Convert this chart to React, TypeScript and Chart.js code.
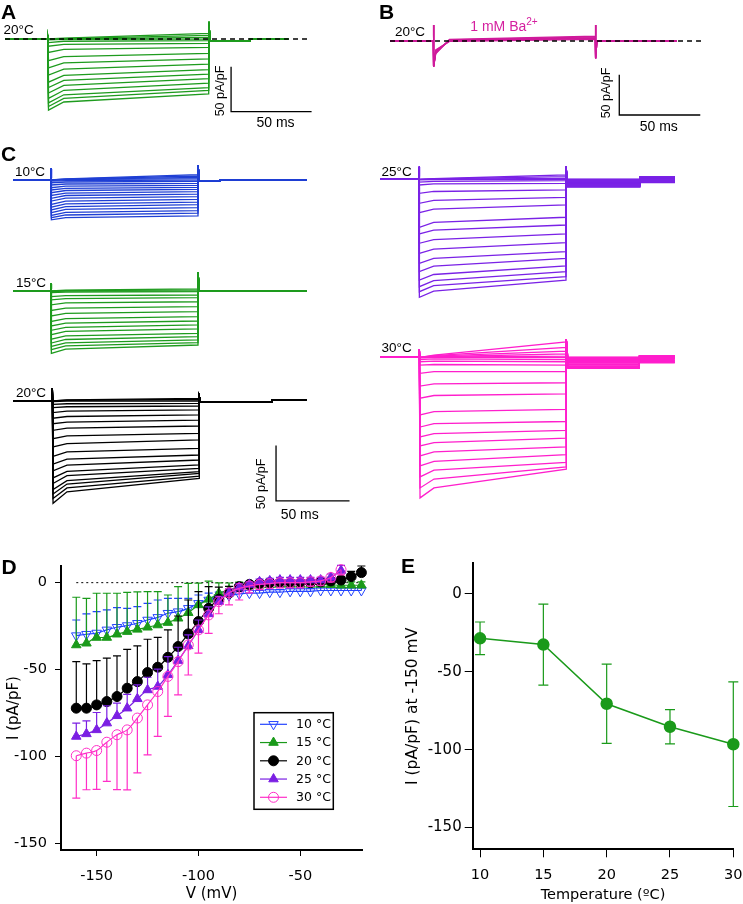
import React, { useEffect, useRef } from 'react';
import { Chart, registerables } from 'chart.js';

Chart.register(...registerables);
Chart.defaults.font.family = "'DejaVu Sans', sans-serif";
Chart.defaults.color = '#000';

// ---------------- colours ----------------
const C_GREEN = '#1e9b1e';
const C_BLUE = '#1f3fd4';
const C_PURPLE = '#7a22e6';
const C_PINK = '#ff1fcc';
const C_BA = '#cf1a9b';
const D_BLUE = '#2343ff';
const D_GREEN = '#1a9a1a';
const D_PURPLE = '#7b1fe3';
const D_PINK = '#ff2ec8';

// ---------------- protocol ----------------
const STEP_MS = 100;
const T_EARLY = 10;
const SCALE_MS = 50;
const SCALE_I = 50;

// ---------------- Panel A (20 °C, control) ----------------
const A_START = [0, 0, 0, -1, -4, -8, -15, -24, -32, -40, -48, -54, -60, -66, -71, -75, -79];
const A_EARLY = [1, 0.5, 0, -0.5, -2.5, -6, -11.5, -19.5, -26.5, -33.5, -40.5, -46, -51.5, -57, -62, -66, -70];
const A_END = [6.3, 4, 1.9, 0, -1.9, -4.8, -9.3, -16, -22, -28, -34, -39, -44, -49, -54, -57, -61];

// ---------------- Panel B (1 mM Ba2+) ----------------
const B_START = [-16, -15, -14, -13, -12, -11];
const B_EARLY = [2, 1.5, 1, 0.5, 0, -0.5];
const B_END = [6, 5, 4, 3.5, 3, 2];

// ---------------- Panel C ----------------
const C10_START = [0, 0, 0, 0, -1, -2.5, -4.5, -7, -9, -11.5, -14, -16.5, -19, -22, -24.5, -27, -29.5, -32, -34, -36];
const C10_EARLY = [1, 0.8, 0.5, 0.3, -0.5, -1.8, -3.6, -5.6, -7.5, -9.5, -11.8, -14, -16.4, -19, -21.5, -24, -26.6, -29.3, -31.6, -34];
const C10_END = [4.8, 3.6, 2.4, 1.2, 0, -1.2, -3, -4.8, -6.6, -8.4, -10.5, -12.7, -15, -17.5, -19.9, -22.3, -25, -27.7, -30, -32.5];

const C15_START = [0, 0, -0.5, -1.5, -5, -8, -12.5, -17.5, -22.5, -27.5, -31.5, -35.5, -39.5, -43.5, -47, -50, -53, -56.3];
const C15_EARLY = [0.8, 0.4, -0.2, -1, -4.2, -6.8, -10.8, -15.5, -20.3, -25, -29, -32.8, -36.5, -40.5, -43.8, -46.8, -49.5, -52.5];
const C15_END = [2, 1, 0, -0.6, -3.6, -6, -9.7, -14.2, -18.7, -23.2, -27.1, -30.7, -34.3, -38.2, -41.2, -44.2, -46.7, -48.8];

const C20_START = [0, 0, -0.5, -3, -6, -10.5, -15.5, -20.5, -26.5, -34, -41.5, -50, -57, -63, -69.5, -74.5, -80, -84, -88, -92.4];
const C20_EARLY = [1, 0.7, 0, -2.5, -5.2, -9.2, -14, -19, -24.5, -31.5, -38.5, -46, -52.5, -58, -63.5, -67.5, -72, -75, -78.5, -82];
const C20_END = [2.4, 1.5, 0, -2.1, -4.5, -8.1, -12.6, -17.2, -22.6, -29.2, -35.2, -42.8, -48.8, -53.3, -57.8, -60.8, -63.8, -65.3, -67.8, -69.9];

const C25_START = [0, 0, 0, -0.5, -2.5, -5.1, -12.7, -21.7, -30.1, -43.4, -49.4, -57.8, -66.9, -75.9, -83.4, -91, -97, -101.5, -106.6];
const C25_EARLY = [0.5, 0.3, 0.2, -0.2, -1.8, -4.2, -11, -19, -27, -39, -46, -54.5, -63, -71.5, -78.5, -86, -91.5, -96, -101];
const C25_END = [3.9, 2.4, 0.9, 0, -1.2, -3.6, -9.6, -16.3, -23.2, -34.3, -41.3, -49.4, -57.2, -65.4, -71.4, -78.3, -83.4, -88, -91];
const C25_TAIL1 = [0, 0, 0, -0.5, -1, -1.5, -2, -2.5, -3, -3.5, -4, -4.5, -5, -5, -5.5, -6, -6, -6.5, -7];
const C25_TAIL2 = [2.5, 2.5, 2, 2, 1.5, 1.5, 1, 1, 0.5, 0, 0, -0.5, -1, -1, -1.5, -2, -2, -2.5, -3];

const C30_START = [0, 0, 0, 0, 0, -0.5, -2, -4, -7, -14.5, -26, -37, -52, -63, -72, -80, -89, -98, -108, -118, -127];
const C30_EARLY = [2, 1.5, 1, 0.5, 0.2, 0, -1.5, -3.5, -6.5, -13, -24, -34.5, -49, -60, -69, -77, -85.5, -94, -102, -110, -118];
const C30_END = [14, 9, 5.5, 3, 1, 0, -2, -4, -7, -13, -23, -33, -47, -58, -66, -73, -81, -88, -95, -99, -101];
const C30_TAIL1 = [0, 0, 0, -0.5, -1, -1, -1.5, -2, -2.5, -3, -4, -4.5, -5, -6, -6.5, -7, -8, -8.5, -9, -9.5, -10];
const C30_TAIL2 = [1.5, 1.5, 1, 1, 0.5, 0.5, 0, 0, -0.5, -1, -1, -1.5, -2, -2.5, -3, -3, -3.5, -4, -4.5, -4.5, -5];

// ---------------- Panel D (I-V) ----------------
const D_V = [-160, -155, -150, -145, -140, -135, -130, -125, -120, -115, -110, -105, -100, -95, -90, -85, -80, -75, -70, -65, -60, -55, -50, -45, -40, -35, -30, -25, -20];
const D_LABELS = ['10 \u00b0C', '15 \u00b0C', '20 \u00b0C', '25 \u00b0C', '30 \u00b0C'];
const I10 = [-30.5, -29.7, -29, -27.2, -25.7, -24.7, -23.4, -21.5, -20, -17.6, -16.7, -14.8, -11.9, -10, -8.5, -7.5, -6.5, -6, -6, -5.5, -5.5, -5, -5, -5, -4.5, -4.5, -4.5, -4.5, -4.5];
const E10 = [9, 11.7, 12.3, 11.5, 11.3, 9.9, 9.6, 9.6, 10, 8.6, 7.7, 5.8, 4.8, 4, 3, 2, 1.5, 1.5, 1.5, 1.5, 1.5, 1.5, 1.5, 1.5, 1.5, 1.5, 1.5, 1.5, 1.5];
const I15 = [-35.9, -34.9, -31.6, -31.6, -29.7, -28.2, -26.9, -25.7, -24.4, -23, -20.5, -17.3, -12.8, -9.6, -6.1, -4.2, -2.7, -2, -1.5, -1.2, -1, -1, -1, -1, -1, -1.2, -1.5, -1.5, -1.5];
const E15 = [27.5, 25.9, 25.5, 25.5, 23.6, 22.6, 21.6, 20.5, 19.2, 15.9, 18.2, 16.9, 12.5, 10.5, 6, 4, 3, 2.5, 2, 2, 2, 2, 2, 2, 2, 2, 2, 2, 2];
const I20 = [-72.3, -72.3, -70.4, -68.5, -65.6, -60.8, -57, -51.8, -48.7, -43, -36.8, -29.5, -22.4, -14.8, -9.6, -6.1, -2.3, -1, -0.5, 0, 0, 0, 0, 0, 0.5, 1, 1.5, 3.5, 5.8];
const E20 = [26.8, 25.5, 25.5, 25, 23.4, 22.4, 20.6, 19.2, 17.2, 15.8, 17.6, 19.5, 17.2, 12.5, 7, 4, 2, 1.5, 1.5, 1.5, 1.5, 1.5, 1.5, 1.5, 1.5, 1.5, 2, 3, 3.8];
const I25 = [-88.6, -87.1, -84.8, -80.9, -76.7, -72.3, -66.9, -61.8, -59.8, -53.1, -44.9, -36.4, -27.2, -18, -10.9, -6.1, -2.7, -1, 0.5, 1, 1.5, 1.5, 1.5, 1.5, 1.5, 3, 7];
const E25 = [7.7, 7.5, 10, 10, 7.3, 8, 8, 7.3, 10, 10.5, 7.7, 6.3, 5.7, 4, 3, 2.5, 2, 1.5, 1.5, 1.5, 1.5, 1.5, 1.5, 1.5, 1.5, 2, 3];
const I30 = [-99.7, -98.2, -96.7, -91.9, -87.6, -84.8, -78, -70.4, -62.7, -54, -45.5, -35.9, -27.2, -18.6, -10.9, -5.8, -3.3, -1.9, -1, -0.5, 0, 0, 0, 0.5, 1, 3, 7.5];
const E30 = [24.4, 21.1, 22.4, 22.6, 31.6, 34.6, 31.6, 28.8, 25.9, 23, 19.1, 17.3, 13.4, 10.6, 7, 7, 6.7, 4, 3, 3, 3, 3, 3, 2.5, 2.5, 2.5, 3];
const D_X_TICKS = [-150, -100, -50];
const D_Y_TICKS = [0, -50, -100, -150];

// ---------------- Panel E ----------------
const E_TEMP = [10, 15, 20, 25, 30];
const E_I = [-28.5, -32.5, -70.5, -85.3, -96.5];
const E_ERR = [10.5, 26, 25.5, 11, 40];
const E_X_TICKS = [10, 15, 20, 25, 30];
const E_Y_TICKS = [0, -50, -100, -150];

// ---------------- helpers ----------------
type TracePanel = {
  left: number; top: number; width: number; height: number;
  onsetX: number; baseY: number; pxPerMs: number; pxPerUnit: number;
  color: string;
  starts: number[]; earlies: number[]; ends: number[];
  tStart: number; tPre: number; tEnd: number; tStep: number;
  tail1: number | number[]; tail2: number | number[];
  spikeOn: number; spikeOnDown?: number; spikeOff: number; spikeOffDown?: number;
  dashEnd?: number;
  scaleBar?: { t: number; i: number };
};

const pick = (v: number | number[], i: number) => (Array.isArray(v) ? v[i] : v);

function buildTrace(p: TracePanel, i: number) {
  const t1 = pick(p.tail1, i);
  const t2 = pick(p.tail2, i);
  const pts: { x: number; y: number }[] = [
    { x: p.tPre, y: 0 },
    { x: 0, y: 0 },
    { x: 0, y: p.spikeOn },
  ];
  if (p.spikeOnDown !== undefined) pts.push({ x: 0.4, y: p.spikeOnDown });
  pts.push({ x: p.tStart, y: p.starts[i] });
  pts.push({ x: T_EARLY, y: p.earlies[i] });
  pts.push({ x: STEP_MS, y: p.ends[i] });
  pts.push({ x: STEP_MS, y: p.spikeOff });
  if (p.spikeOffDown !== undefined) pts.push({ x: STEP_MS + 0.4, y: p.spikeOffDown });
  pts.push({ x: STEP_MS + 1, y: t1 });
  pts.push({ x: p.tStep, y: t1 });
  pts.push({ x: p.tStep, y: t2 });
  pts.push({ x: p.tEnd, y: t2 });
  return pts;
}

function traceConfig(p: TracePanel): any {
  const xMin = (p.left - p.onsetX) / p.pxPerMs;
  const xMax = xMin + p.width / p.pxPerMs;
  const yMax = (p.baseY - p.top) / p.pxPerUnit;
  const yMin = yMax - p.height / p.pxPerUnit;
  const datasets: any[] = [];
  if (p.dashEnd !== undefined) {
    datasets.push({
      data: [{ x: p.tPre, y: 0 }, { x: p.dashEnd, y: 0 }],
      borderColor: '#000', borderWidth: 1.3, borderDash: [5, 4], pointRadius: 0, clip: false,
    });
  }
  if (p.scaleBar) {
    const { t, i } = p.scaleBar;
    datasets.push({
      data: [{ x: t, y: i + SCALE_I }, { x: t, y: i }, { x: t + SCALE_MS, y: i }],
      borderColor: '#000', borderWidth: 1.3, pointRadius: 0, clip: false,
    });
  }
  p.ends.forEach((_, i) => {
    datasets.push({
      data: buildTrace(p, i), borderColor: p.color, borderWidth: 1.3, pointRadius: 0, tension: 0, clip: false,
    });
  });
  return {
    type: 'line',
    data: { datasets },
    options: {
      animation: false, responsive: false, events: [],
      layout: { padding: 0, autoPadding: false },
      plugins: { legend: { display: false }, tooltip: { enabled: false } },
      scales: {
        x: { type: 'linear', display: false, min: xMin, max: xMax },
        y: { type: 'linear', display: false, min: yMin, max: yMax },
      },
    },
  };
}

const errorBarPlugin = {
  id: 'errorBars',
  beforeDatasetDraw(chart: any, args: any) {
    const ds: any = chart.data.datasets[args.index];
    if (!ds.errUp && !ds.errDown) return;
    const { ctx } = chart;
    const xs = chart.scales.x;
    const ys = chart.scales.y;
    ctx.save();
    ctx.strokeStyle = ds.borderColor;
    ctx.lineWidth = ds.errWidth || 1.2;
    const cap = ds.capHalf || 4;
    ds.data.forEach((p: any, i: number) => {
      const px = xs.getPixelForValue(p.x);
      const py = ys.getPixelForValue(p.y);
      const ends: number[] = [];
      if (ds.errUp) ends.push(ys.getPixelForValue(p.y + ds.errUp[i]));
      if (ds.errDown) ends.push(ys.getPixelForValue(p.y - ds.errDown[i]));
      ends.forEach((e) => {
        ctx.beginPath();
        ctx.moveTo(px, py);
        ctx.lineTo(px, e);
        ctx.moveTo(px - cap, e);
        ctx.lineTo(px + cap, e);
        ctx.stroke();
      });
    });
    ctx.restore();
  },
};

function drawMarker(ctx: CanvasRenderingContext2D, style: string, x: number, y: number, r: number, rot: number, fill: string | null, stroke: string) {
  ctx.beginPath();
  if (style === 'circle') {
    ctx.arc(x, y, r, 0, Math.PI * 2);
  } else {
    let a = (rot * Math.PI) / 180;
    ctx.moveTo(x + Math.sin(a) * r, y - Math.cos(a) * r);
    a += (2 * Math.PI) / 3;
    ctx.lineTo(x + Math.sin(a) * r, y - Math.cos(a) * r);
    a += (2 * Math.PI) / 3;
    ctx.lineTo(x + Math.sin(a) * r, y - Math.cos(a) * r);
    ctx.closePath();
  }
  if (fill) {
    ctx.fillStyle = fill;
    ctx.fill();
  }
  ctx.lineWidth = 1;
  ctx.strokeStyle = stroke;
  ctx.stroke();
}

const LEG = { x: 254, y: 164.7, w: 79.3, h: 96.6, row0: 11.6, rowGap: 18.25, line0: 260, line1: 287, textX: 296 };

const boxLegendPlugin = {
  id: 'boxLegend',
  afterDatasetsDraw(chart: any) {
    const ctx: CanvasRenderingContext2D = chart.ctx;
    ctx.save();
    ctx.fillStyle = '#fff';
    ctx.fillRect(LEG.x, LEG.y, LEG.w, LEG.h);
    ctx.lineWidth = 1.5;
    ctx.strokeStyle = '#000';
    ctx.strokeRect(LEG.x, LEG.y, LEG.w, LEG.h);
    const items = chart.data.datasets.filter((d: any) => d.legendRow !== undefined);
    items.forEach((d: any) => {
      const y = LEG.y + LEG.row0 + d.legendRow * LEG.rowGap;
      ctx.beginPath();
      ctx.strokeStyle = d.borderColor;
      ctx.lineWidth = 1.2;
      ctx.moveTo(LEG.line0, y);
      ctx.lineTo(LEG.line1, y);
      ctx.stroke();
      drawMarker(ctx, d.pointStyle, (LEG.line0 + LEG.line1) / 2, y, d.pointRadius, d.pointRotation || 0, d.filled ? d.borderColor : null, d.borderColor);
      ctx.fillStyle = '#000';
      ctx.font = "12.5px 'DejaVu Sans'";
      ctx.textBaseline = 'middle';
      ctx.textAlign = 'left';
      ctx.fillText(d.label, LEG.textX, y + 0.5);
    });
    ctx.restore();
  },
};

function dSeries(label: string, ys: number[], up: number[] | null, down: number[] | null, color: string, style: string, rot: number, filled: boolean, radius: number, order: number, legendRow: number) {
  return {
    label,
    data: ys.map((y, i) => ({ x: D_V[i], y })),
    borderColor: color, backgroundColor: color, borderWidth: 1.2,
    pointStyle: style, pointRotation: rot, pointRadius: radius,
    pointBackgroundColor: filled ? color : 'rgba(255,255,255,0)',
    pointBorderColor: color, pointBorderWidth: 1,
    cubicInterpolationMode: 'monotone', clip: false, order,
    errUp: up, errDown: down, capHalf: 4, errWidth: 1.2, filled, legendRow,
  };
}

function axisCommon(tickVals: number[], fontSize: number, tickLen: number, pad: number) {
  return {
    type: 'linear',
    afterBuildTicks: (ax: any) => { ax.ticks = tickVals.map((v) => ({ value: v })); },
    grid: { display: true, drawOnChartArea: false, drawTicks: true, tickLength: tickLen, color: '#000', lineWidth: 1 },
    border: { display: true, color: '#000', width: 2 },
    ticks: { color: '#000', font: { size: fontSize }, padding: pad, autoSkip: false, maxRotation: 0, callback: (v: any) => String(v) },
  };
}

// fix an axis box size and stop its labels from shrinking the plot area
const fixHeight = (h: number) => (s: any) => { s.height = h; s.paddingLeft = 0; s.paddingRight = 0; };
const fixWidth = (w: number) => (s: any) => { s.width = w; s.paddingTop = 0; s.paddingBottom = 0; };

function dConfig(): any {
  const datasets = [
    {
      data: [{ x: -160, y: 0 }, { x: -20, y: 0 }], borderColor: '#000', borderWidth: 1, borderDash: [2, 3], pointRadius: 0, order: 20, clip: false,
    },
    dSeries(D_LABELS[0], I10, E10, null, D_BLUE, 'triangle', 180, false, 5.5, 5, 0),
    dSeries(D_LABELS[1], I15, E15, null, D_GREEN, 'triangle', 0, true, 5.5, 4, 1),
    dSeries(D_LABELS[2], I20, E20, null, '#000', 'circle', 0, true, 5, 3, 2),
    dSeries(D_LABELS[3], I25, E25, null, D_PURPLE, 'triangle', 0, true, 5.5, 2, 3),
    dSeries(D_LABELS[4], I30, null, E30, D_PINK, 'circle', 0, false, 5, 1, 4),
  ];
  return {
    type: 'line',
    data: { datasets },
    plugins: [errorBarPlugin, boxLegendPlugin],
    options: {
      animation: false, responsive: false, events: [],
      layout: { padding: { left: 0, top: 18, right: 18, bottom: 0 }, autoPadding: false },
      plugins: { legend: { display: false }, tooltip: { enabled: false } },
      scales: {
        x: {
          ...axisCommon(D_X_TICKS, 14.5, 6, 12), min: -167.5, max: -19.7,
          afterFit: fixHeight(54),
          title: { display: true, text: 'V (mV)', color: '#000', font: { size: 15 }, padding: { top: 0, bottom: 1 } },
        },
        y: {
          ...axisCommon(D_Y_TICKS, 14.5, 6, 8), min: -154, max: 9.6,
          afterFit: fixWidth(61),
          title: { display: true, text: 'I (pA/pF)', color: '#000', font: { size: 15 }, padding: { top: 5, bottom: 0 } },
        },
      },
    },
  };
}

function eConfig(): any {
  return {
    type: 'line',
    data: {
      datasets: [{
        data: E_TEMP.map((t, i) => ({ x: t, y: E_I[i] })),
        borderColor: D_GREEN, backgroundColor: D_GREEN, borderWidth: 1.5,
        pointRadius: 5.5, pointBackgroundColor: D_GREEN, pointBorderColor: D_GREEN,
        errUp: E_ERR, errDown: E_ERR, capHalf: 5, errWidth: 1.2, clip: false, tension: 0,
      }],
    },
    plugins: [errorBarPlugin],
    options: {
      animation: false, responsive: false, events: [],
      layout: { padding: { left: 0, top: 15.3, right: 9.7, bottom: 0 }, autoPadding: false },
      plugins: { legend: { display: false }, tooltip: { enabled: false } },
      scales: {
        x: {
          ...axisCommon(E_X_TICKS, 14.5, 8, 9), min: 9.42, max: 30,
          afterFit: fixHeight(54.7),
          title: { display: true, text: 'Temperature (\u00baC)', color: '#000', font: { size: 14.5 }, padding: { top: 0, bottom: 0 } },
        },
        y: {
          ...axisCommon(E_Y_TICKS, 15, 8, 3), min: -164, max: 19.7,
          afterFit: fixWidth(92.7),
          title: { display: true, text: 'I (pA/pF) at -150 mV', color: '#000', font: { size: 15.5 }, padding: { top: 23.7, bottom: 0 } },
        },
      },
    },
  };
}

// ---------------- trace panels ----------------
const PANEL_A: TracePanel = {
  left: 0, top: 10, width: 330, height: 120, onsetX: 47.7, baseY: 39, pxPerMs: 1.61, pxPerUnit: 0.9,
  color: C_GREEN, starts: A_START, earlies: A_EARLY, ends: A_END,
  tStart: 0.5, tPre: -26.5, tEnd: 149.3, tStep: 125.6, tail1: -2.5, tail2: 0,
  spikeOn: 4.4, spikeOff: 19, dashEnd: 163, scaleBar: { t: 113.9, i: -80.8 },
};
const PANEL_B: TracePanel = {
  left: 380, top: 10, width: 340, height: 120, onsetX: 433.3, baseY: 41, pxPerMs: 1.62, pxPerUnit: 0.806,
  color: C_BA, starts: B_START, earlies: B_EARLY, ends: B_END,
  tStart: 1.5, tPre: -26.7, tEnd: 150.4, tStep: 125, tail1: 0, tail2: 0,
  spikeOn: 19.9, spikeOnDown: -31.9, spikeOff: 19.9, spikeOffDown: -21.5, dashEnd: 165.9, scaleBar: { t: 114.8, i: -91.8 },
};
const PANEL_C10: TracePanel = {
  left: 0, top: 150, width: 330, height: 100, onsetX: 51, baseY: 180, pxPerMs: 1.47, pxPerUnit: 1.107,
  color: C_BLUE, starts: C10_START, earlies: C10_EARLY, ends: C10_END,
  tStart: 0.5, tPre: -25.6, tEnd: 174, tStep: 115, tail1: -0.5, tail2: 0,
  spikeOn: 10.5, spikeOff: 13.5,
};
const PANEL_C15: TracePanel = {
  left: 0, top: 260, width: 330, height: 105, onsetX: 51, baseY: 291, pxPerMs: 1.47, pxPerUnit: 1.107,
  color: C_GREEN, starts: C15_START, earlies: C15_EARLY, ends: C15_END,
  tStart: 0.5, tPre: -25.6, tEnd: 174, tStep: 115, tail1: -0.4, tail2: 0,
  spikeOn: 7, spikeOff: 17,
};
const PANEL_C20: TracePanel = {
  left: 0, top: 375, width: 360, height: 150, onsetX: 52.3, baseY: 401, pxPerMs: 1.47, pxPerUnit: 1.107,
  color: '#000', starts: C20_START, earlies: C20_EARLY, ends: C20_END,
  tStart: 0.5, tPre: -26.5, tEnd: 173, tStep: 149.3, tail1: -1, tail2: 1,
  spikeOn: 11.5, spikeOff: 4, scaleBar: { t: 152.2, i: -90.3 },
};
const PANEL_C25: TracePanel = {
  left: 370, top: 150, width: 320, height: 160, onsetX: 419, baseY: 179.3, pxPerMs: 1.47, pxPerUnit: 1.107,
  color: C_PURPLE, starts: C25_START, earlies: C25_EARLY, ends: C25_END,
  tStart: 0.5, tPre: -26.5, tEnd: 174.1, tStep: 150.3, tail1: C25_TAIL1, tail2: C25_TAIL2,
  spikeOn: 11.4, spikeOff: 11.4,
};
const PANEL_C30: TracePanel = {
  left: 370, top: 325, width: 320, height: 185, onsetX: 419.3, baseY: 357.3, pxPerMs: 1.47, pxPerUnit: 1.107,
  color: C_PINK, starts: C30_START, earlies: C30_EARLY, ends: C30_END,
  tStart: 0.5, tPre: -26.7, tEnd: 173.8, tStep: 149.7, tail1: C30_TAIL1, tail2: C30_TAIL2,
  spikeOn: 7, spikeOff: 16,
};

// ---------------- React ----------------
function ChartCanvas({ left, top, width, height, build }: { left: number; top: number; width: number; height: number; build: () => any }) {
  const ref = useRef<HTMLCanvasElement>(null);
  useEffect(() => {
    const chart = new Chart(ref.current as HTMLCanvasElement, build());
    return () => chart.destroy();
  }, []);
  return <canvas ref={ref} width={width} height={height} style={{ position: 'absolute', left, top, width, height }} />;
}

function TraceChart({ p }: { p: TracePanel }) {
  return <ChartCanvas left={p.left} top={p.top} width={p.width} height={p.height} build={() => traceConfig(p)} />;
}

const SANS = "'Liberation Sans', Arial, sans-serif";

function Txt({ x, y, size, children, bold, color, rotate, family }: any) {
  return (
    <div
      style={{
        position: 'absolute', left: x, top: y,
        transform: `translate(-50%, -50%)${rotate ? ' rotate(-90deg)' : ''}`,
        fontSize: size, fontFamily: family || SANS, fontWeight: bold ? 'bold' : 'normal',
        lineHeight: 1, whiteSpace: 'nowrap', color: color || '#000',
      }}
    >
      {children}
    </div>
  );
}

export default function App() {
  useEffect(() => {
    document.body.style.background = '#fff';
  }, []);
  return (
    <div style={{ position: 'absolute', left: 0, top: 0, width: 743, height: 904, background: '#fff', overflow: 'hidden' }}>
      <TraceChart p={PANEL_A} />
      <TraceChart p={PANEL_B} />
      <TraceChart p={PANEL_C10} />
      <TraceChart p={PANEL_C15} />
      <TraceChart p={PANEL_C20} />
      <TraceChart p={PANEL_C25} />
      <TraceChart p={PANEL_C30} />
      <ChartCanvas left={0} top={548} width={380} height={356} build={dConfig} />
      <ChartCanvas left={380} top={548} width={363} height={356} build={eConfig} />

      <Txt x={8.5} y={10.8} size={21} bold>A</Txt>
      <Txt x={386.5} y={10.5} size={21} bold>B</Txt>
      <Txt x={8.5} y={153} size={21} bold>C</Txt>
      <Txt x={9} y={565.8} size={21} bold>D</Txt>
      <Txt x={408} y={565} size={21} bold>E</Txt>

      <Txt x={18.7} y={30} size={13.5}>20°C</Txt>
      <Txt x={410} y={31.7} size={13.5}>20°C</Txt>
      <Txt x={504} y={25.8} size={14} color="#d41f9f">
        1 mM Ba<span style={{ fontSize: '0.72em', position: 'relative', top: '-0.6em' }}>2+</span>
      </Txt>
      <Txt x={30} y={172} size={13.5}>10°C</Txt>
      <Txt x={31} y={283.3} size={13.5}>15°C</Txt>
      <Txt x={31} y={393.3} size={13.5}>20°C</Txt>
      <Txt x={396.7} y={172} size={13.5}>25°C</Txt>
      <Txt x={396.7} y={348} size={13.5}>30°C</Txt>

      <Txt x={220} y={90.5} size={12.5} rotate>50 pA/pF</Txt>
      <Txt x={275.5} y={122} size={14}>50 ms</Txt>
      <Txt x={606} y={92.5} size={12.5} rotate>50 pA/pF</Txt>
      <Txt x={658.8} y={126} size={14}>50 ms</Txt>
      <Txt x={261} y={484} size={12.5} rotate>50 pA/pF</Txt>
      <Txt x={299.7} y={514} size={14}>50 ms</Txt>
    </div>
  );
}
